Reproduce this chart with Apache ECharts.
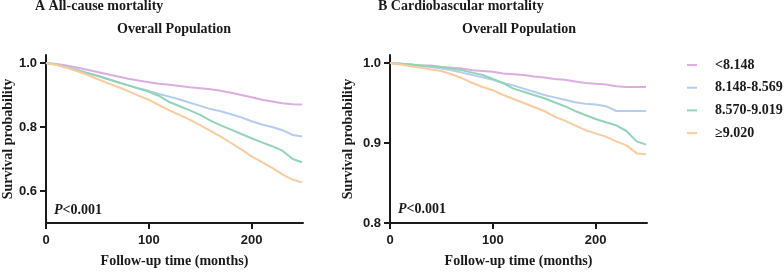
<!DOCTYPE html>
<html>
<head>
<meta charset="utf-8">
<script src="https://cdn.jsdelivr.net/npm/echarts@6/dist/echarts.min.js"></script>
<style>
  html, body { margin: 0; padding: 0; background: #fff; }
  #chart { width: 784px; height: 273px; }
</style>
</head>
<body>
<div id="chart"></div>
<script>
// follow-up time points (months)
const months = [0, 10, 20, 30, 40, 50, 60, 70, 80, 90, 100, 110, 120, 130, 140, 150, 160, 170, 180, 190, 200, 210, 220, 230, 240, 249];

const groupNames = ['<8.148', '8.148-8.569', '8.570-9.019', '≥9.020'];
const groupColors = ['#dcaedf', '#b4cdf0', '#93d4b8', '#f9cb9f'];

// A: all-cause mortality
const allCauseQ1 = [1.0, .997, .992, .986, .979, .972, .965, .958, .951, .945, .940, .935, .932, .928, .924, .921, .918, .913, .907, .900, .893, .885, .880, .874, .871, .870];
const allCauseQ2 = [1.0, .995, .987, .978, .969, .960, .950, .940, .930, .921, .913, .903, .895, .886, .876, .866, .856, .849, .840, .830, .818, .808, .800, .790, .775, .770];
const allCauseQ3 = [1.0, .995, .987, .978, .969, .960, .950, .940, .930, .920, .910, .897, .878, .865, .852, .838, .820, .805, .792, .778, .765, .752, .740, .726, .700, .690];
const allCauseQ4 = [1.0, .994, .985, .975, .963, .950, .937, .925, .912, .898, .885, .868, .852, .838, .822, .806, .788, .770, .750, .730, .708, .690, .672, .652, .635, .627];

// B: cardiovascular mortality
const cvdQ1 = [1.0, .999, .998, .997, .997, .995, .994, .993, .991, .990, .989, .987, .986, .985, .983, .982, .980, .979, .977, .975, .974, .973, .971, .970, .970, .970];
const cvdQ2 = [1.0, .999, .998, .996, .995, .993, .991, .988, .985, .982, .979, .975, .972, .968, .964, .960, .957, .954, .951, .949, .948, .946, .940, .940, .940, .940];
const cvdQ3 = [1.0, .999, .998, .997, .996, .995, .993, .991, .988, .985, .980, .975, .968, .964, .960, .956, .951, .946, .940, .935, .930, .926, .922, .915, .902, .898];
const cvdQ4 = [1.0, .998, .996, .994, .992, .990, .986, .981, .975, .970, .966, .960, .955, .950, .945, .940, .933, .928, .922, .916, .912, .908, .902, .897, .887, .886];

const xTicks = [0, 100, 200];
const yTicksA = [0.6, 0.8, 1.0];
const yTicksB = [0.8, 0.9, 1.0];

const serif = '"Liberation Serif", "Times New Roman", serif';
const sans = '"Liberation Sans", Arial, sans-serif';
const ink = '#1a1a1a';

function pairs(vals) {
  return months.map(function (m, i) { return [m, vals[i]]; });
}

function xAxisFor(gi) {
  return {
    type: 'value', gridIndex: gi, min: 0, max: 250,
    name: 'Follow-up time (months)', nameLocation: 'middle', nameGap: 31,
    nameTextStyle: { fontFamily: serif, fontWeight: 'bold', fontSize: 14, color: ink },
    axisLine: { show: true, lineStyle: { color: ink, width: 2 } },
    axisTick: { show: true, length: 6, lineStyle: { color: ink, width: 2 }, customValues: xTicks },
    axisLabel: { fontFamily: sans, fontWeight: 'bold', fontSize: 13, color: ink, margin: 11, customValues: xTicks },
    splitLine: { show: false }
  };
}

function yAxisFor(gi, min, max, ticks, gap) {
  return {
    type: 'value', gridIndex: gi, min: min, max: max,
    name: 'Survival probability', nameLocation: 'middle', nameGap: gap,
    nameTextStyle: { fontFamily: serif, fontWeight: 'bold', fontSize: 14, color: ink },
    axisLine: { show: true, lineStyle: { color: ink, width: 2 } },
    axisTick: { show: true, length: 6, lineStyle: { color: ink, width: 2 }, customValues: ticks },
    axisLabel: {
      fontFamily: sans, fontWeight: 'bold', fontSize: 13, color: ink, margin: 9, customValues: ticks,
      formatter: function (v) { return v.toFixed(1); }
    },
    splitLine: { show: false }
  };
}

function lineSeries(name, vals, gi, color) {
  return {
    name: name, type: 'line', xAxisIndex: gi, yAxisIndex: gi,
    data: pairs(vals), showSymbol: false, symbol: 'none',
    lineStyle: { color: color, width: 2 }, itemStyle: { color: color },
    silent: true, animation: false
  };
}

const titleFont = { fontFamily: serif, fontWeight: 'bold', fontSize: 14, color: ink };
const pText = { text: '{i|P}<0.001', font: 'bold 14px ' + serif, fill: ink, rich: { i: { fontStyle: 'italic', fontWeight: 'bold', fontFamily: serif, fontSize: 14, fill: ink } } };

const chart = echarts.init(document.getElementById('chart'));
chart.setOption({
  backgroundColor: '#fff',
  animation: false,
  title: [
    { text: 'A All-cause mortality', left: 35, top: -1, padding: 0, textStyle: titleFont },
    { text: 'Overall Population', left: 117, top: 22, padding: 0, textStyle: titleFont },
    { text: 'B Cardiobascular mortality', left: 378, top: -1, padding: 0, textStyle: titleFont },
    { text: 'Overall Population', left: 462, top: 22, padding: 0, textStyle: titleFont }
  ],
  legend: {
    orient: 'vertical', left: 682, top: 53, itemGap: 8.7,
    icon: 'rect', itemWidth: 10, itemHeight: 2,
    data: groupNames,
    textStyle: { fontFamily: serif, fontWeight: 'bold', fontSize: 14, color: ink, padding: [0, 0, 0, 13] }
  },
  grid: [
    { left: 46, top: 55, width: 257, height: 172 },
    { left: 390, top: 55, width: 257, height: 172 }
  ],
  xAxis: [xAxisFor(0), xAxisFor(1)],
  yAxis: [yAxisFor(0, 0.5, 1.025, yTicksA, 29), yAxisFor(1, 0.8, 1.01, yTicksB, 35)],
  series: [
    lineSeries(groupNames[0], allCauseQ1, 0, groupColors[0]),
    lineSeries(groupNames[1], allCauseQ2, 0, groupColors[1]),
    lineSeries(groupNames[2], allCauseQ3, 0, groupColors[2]),
    lineSeries(groupNames[3], allCauseQ4, 0, groupColors[3]),
    lineSeries(groupNames[0], cvdQ1, 1, groupColors[0]),
    lineSeries(groupNames[1], cvdQ2, 1, groupColors[1]),
    lineSeries(groupNames[2], cvdQ3, 1, groupColors[2]),
    lineSeries(groupNames[3], cvdQ4, 1, groupColors[3])
  ],
  graphic: [
    { type: 'text', left: 54, top: 203, style: pText },
    { type: 'text', left: 398, top: 202, style: pText }
  ]
});
</script>
</body>
</html>
